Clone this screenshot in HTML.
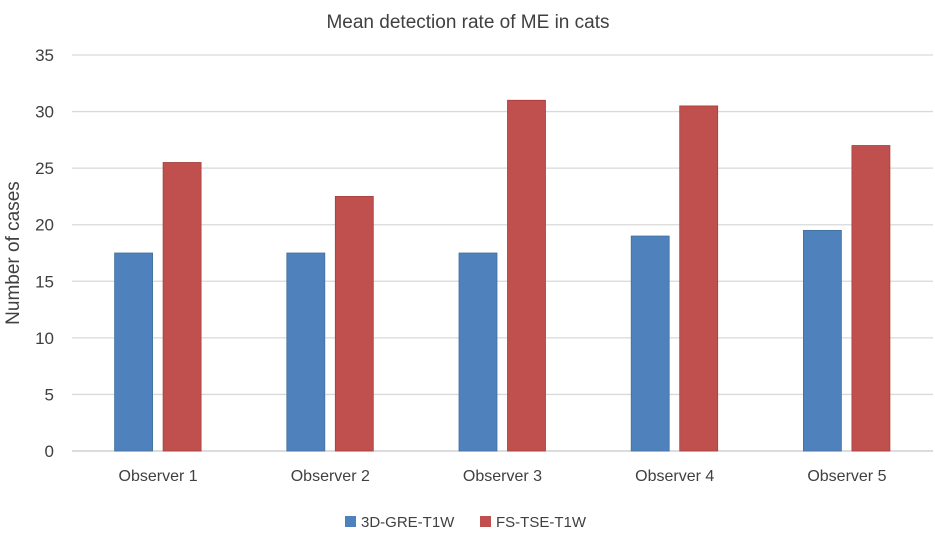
<!DOCTYPE html>
<html><head><meta charset="utf-8"><style>
body{margin:0;background:#fff;}
svg text{font-family:"Liberation Sans",sans-serif;fill:#404040;}
</style></head><body>
<svg id="chart" width="935" height="533">
<text x="468" y="28" text-anchor="middle" font-size="19">Mean detection rate of ME in cats</text>
<text transform="translate(19,253) rotate(-90)" text-anchor="middle" font-size="19">Number of cases</text>
<g id="grid"></g><g id="bars"></g><g id="labels"></g>
<g>
<rect x="345" y="516" width="11" height="11" fill="#4f81bd"/>
<text x="361" y="527" font-size="15">3D-GRE-T1W</text>
<rect x="480" y="516" width="11" height="11" fill="#c0504d"/>
<text x="496" y="527" font-size="15">FS-TSE-T1W</text>
</g>
</svg>
<script>
const categories=["Observer 1","Observer 2","Observer 3","Observer 4","Observer 5"];
const greValues=[17.5,17.5,17.5,19,19.5];
const tseValues=[25.5,22.5,31,30.5,27];
const yTicks=[0,5,10,15,20,25,30,35];
const NS="http://www.w3.org/2000/svg";
const L=72,R=933,T=55,B=451,yMax=35;
const y=v=>B-(v/yMax)*(B-T);
const bw=(R-L)/categories.length;
const grid=document.getElementById('grid'),bars=document.getElementById('bars'),labels=document.getElementById('labels');
function mk(tag,attrs,parent){const e=document.createElementNS(NS,tag);for(const k in attrs)e.setAttribute(k,attrs[k]);parent.appendChild(e);return e;}
yTicks.forEach(t=>{
const ln=mk('line',{x1:L,x2:R,y1:y(t),y2:y(t),stroke:t===0?'#c8c8c8':'#d9d9d9','stroke-width':1.3},grid);


const tx=mk('text',{x:54,y:y(t)+6,'text-anchor':'end','font-size':17},grid);tx.textContent=t;


});
categories.forEach((c,i)=>{
const cx=L+bw*(i+0.5);
const b1=mk('rect',{x:cx-43.5,y:y(greValues[i]),width:38,height:B-y(greValues[i]),fill:'#4f81bd',stroke:'#41719c','stroke-width':0.8},bars);


const b2=mk('rect',{x:cx+5,y:y(tseValues[i]),width:38,height:B-y(tseValues[i]),fill:'#c0504d',stroke:'#a33f3c','stroke-width':0.8},bars);


const tx=mk('text',{x:cx,y:481,'text-anchor':'middle','font-size':16},labels);tx.textContent=c;


});
</script>
</body></html>
